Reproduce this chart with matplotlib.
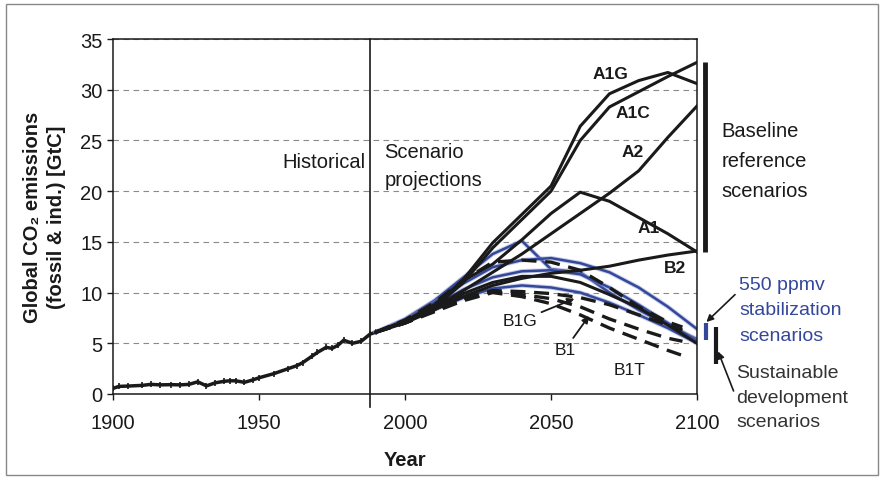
import matplotlib
matplotlib.use("Agg")
import matplotlib.pyplot as plt
from matplotlib.patches import Rectangle

plt.rcParams['font.family'] = ['Liberation Sans', 'DejaVu Sans']

# historical emissions (fossil & industry), GtC
hist_years = [1900, 1902, 1905, 1910, 1913, 1916, 1920, 1923, 1926, 1929, 1932,
              1935, 1938, 1940, 1942, 1945, 1948, 1950, 1955, 1960, 1963, 1965,
              1968, 1970, 1973, 1975, 1977, 1979, 1982, 1985, 1988, 1990]
hist_vals = [0.55, 0.75, 0.78, 0.85, 0.95, 0.9, 0.92, 0.9, 0.95, 1.2, 0.8,
             1.1, 1.25, 1.3, 1.3, 1.15, 1.4, 1.6, 2.0, 2.5, 2.8, 3.1,
             3.7, 4.1, 4.6, 4.5, 4.8, 5.3, 5.0, 5.2, 5.9, 6.1]

# baseline reference scenarios
scn_years = [1990, 2000, 2010, 2020, 2030, 2040, 2050, 2060, 2070, 2080, 2090, 2100]
a1g = [6.1, 7.1, 8.6, 11.3, 14.9, 17.7, 20.5, 26.4, 29.6, 30.9, 31.7, 30.6]
a1c = [6.1, 7.1, 8.5, 11.0, 14.4, 17.2, 20.0, 25.0, 28.3, 29.8, 31.3, 32.7]
a2 = [6.1, 7.2, 8.5, 10.2, 12.0, 13.8, 15.8, 17.8, 19.8, 22.0, 25.3, 28.4]
a1 = [6.1, 7.2, 8.8, 11.2, 12.8, 15.2, 17.8, 19.9, 19.0, 17.4, 15.8, 14.0]
b2 = [6.1, 7.1, 8.3, 9.6, 10.7, 11.4, 11.9, 12.2, 12.6, 13.2, 13.7, 14.1]
b1 = [6.1, 7.0, 8.3, 9.9, 11.0, 11.6, 11.6, 11.0, 9.8, 8.5, 6.8, 5.0]

# 550 ppmv stabilization scenarios
stab_1 = [6.1, 7.4, 9.2, 11.5, 13.8, 15.1, 12.3, 12.0, 10.0, 8.3, 6.8, 5.4]
stab_2 = [6.1, 7.3, 9.0, 10.9, 12.5, 13.2, 13.4, 12.9, 12.0, 10.5, 8.6, 6.4]
stab_3 = [6.1, 7.2, 8.7, 10.3, 11.5, 12.1, 12.2, 11.8, 10.5, 8.8, 7.0, 5.2]
stab_4 = [6.1, 7.1, 8.3, 9.5, 10.4, 10.7, 10.5, 10.0, 9.0, 7.8, 6.5, 5.0]

# sustainable development scenarios (dashed)
sd_years = [1990, 2000, 2010, 2020, 2030, 2040, 2050, 2060, 2070, 2080, 2090, 2095]
sd_top = [6.1, 7.3, 9.0, 11.2, 13.0, 13.2, 13.0, 12.2, 10.5, 8.6, 7.1, 6.6]
sd_b1g = [6.1, 7.0, 8.2, 9.4, 10.2, 10.1, 9.9, 9.5, 8.8, 7.8, 6.8, 6.3]
sd_b1 = [6.1, 7.0, 8.2, 9.3, 10.1, 9.8, 9.4, 8.6, 7.4, 6.4, 5.5, 5.2]
sd_b1t = [6.1, 7.0, 8.1, 9.2, 10.0, 9.6, 8.9, 7.8, 6.5, 5.4, 4.3, 3.8]

x_ticks = [1900, 1950, 2000, 2050, 2100]
y_ticks = [0, 5, 10, 15, 20, 25, 30, 35]

ink = '#1a1a1a'
blue = '#34489a'

fig = plt.figure(figsize=(8.81, 4.81), dpi=100)
ax = fig.add_axes([0.1283, 0.1788, 0.6629, 0.738])

ax.set_xlim(1900, 2100)
ax.set_ylim(0, 35)
ax.set_xticks(x_ticks)
ax.set_yticks(y_ticks)
ax.tick_params(labelsize=14.5, colors=ink, length=4, width=1, direction='out')
ax.tick_params(axis='x', pad=10)
for s in ax.spines.values():
    s.set_color(ink)
    s.set_linewidth(1.1)
ax.grid(axis='y', color='#8a8a8a', linestyle=(0, (5, 4)), linewidth=0.8)
ax.set_axisbelow(True)

ax.set_xlabel('Year', fontsize=14.5, fontweight='bold', color=ink, labelpad=13)
ax.set_ylabel('Global CO\u2082 emissions\n(fossil & ind.) [GtC]', fontsize=14.5,
              fontweight='bold', color=ink, labelpad=10, linespacing=1.35)

# history and separator
ax.plot(hist_years, hist_vals, color=ink, lw=2.5, marker='|', ms=5, mew=1.2)
ax.plot([1988, 1988], [-1.3, 35], color=ink, lw=1.2, clip_on=False)

# stabilization (blue)
for v in (stab_1, stab_2, stab_3, stab_4):
    ax.plot(scn_years, v, color='#8f9ad0', lw=3.2, alpha=0.5)
    ax.plot(scn_years, v, color=blue, lw=1.8)

# sustainable development (dashed)
for v in (sd_top, sd_b1g, sd_b1, sd_b1t):
    ax.plot(sd_years, v, color=ink, lw=2.4, linestyle=(0, (4.5, 2.6)))

# baseline scenarios
for v in (a1g, a1c, a2, a1, b2, b1):
    ax.plot(scn_years, v, color=ink, lw=2.2)

# curve labels
lab = dict(fontsize=12.5, fontweight='bold', color=ink, ha='center', va='center')
ax.text(2070.5, 31.6, 'A1G', **lab)
ax.text(2078, 27.8, 'A1C', **lab)
ax.text(2078, 23.9, 'A2', **lab)
ax.text(2083.5, 16.4, 'A1', **lab)
ax.text(2092.5, 12.5, 'B2', **lab)

arrow = dict(arrowstyle='-|>', color=ink, lw=1.3, shrinkA=1, shrinkB=0,
             mutation_scale=10)
ax.annotate('B1G', xy=(2058, 9.4), xytext=(2039.4, 7.2), fontsize=12.5, color=ink,
            ha='center', va='center', arrowprops=arrow)
ax.annotate('B1', xy=(2063, 7.7), xytext=(2054.8, 4.4), fontsize=12.5, color=ink,
            ha='center', va='center', arrowprops=arrow)
ax.text(2076.8, 2.4, 'B1T', fontsize=12.5, color=ink, ha='center', va='center')

# period labels
ax.text(1986.5, 22.9, 'Historical', fontsize=14.5, color=ink, ha='right', va='center')
ax.text(1993, 22.5, 'Scenario\nprojections', fontsize=14.5, color=ink, ha='left',
        va='center', linespacing=1.6)

# right-hand brackets and labels
ax.plot([2102.7, 2102.7], [14.0, 32.7], color=ink, lw=3.5, clip_on=False,
        solid_capstyle='butt')
ax.text(2108.5, 23.0, 'Baseline\nreference\nscenarios', fontsize=14.5, color=ink,
        ha='left', va='center', linespacing=1.75)

ax.plot([2103.0, 2103.0], [5.3, 7.0], color=blue, lw=3, clip_on=False,
        solid_capstyle='butt')
ax.plot([2106.5, 2106.5], [3.0, 6.6], color=ink, lw=3, clip_on=False,
        solid_capstyle='butt')
ax.annotate('', xy=(2103.2, 7.1), xytext=(2113, 9.8), annotation_clip=False,
            arrowprops=dict(arrowstyle='-|>', color=ink, lw=1.2, mutation_scale=10,
                            shrinkA=0, shrinkB=0))
ax.text(2114.5, 8.3, '550 ppmv\nstabilization\nscenarios', fontsize=14, color=blue,
        ha='left', va='center', linespacing=1.65)
ax.annotate('', xy=(2107.2, 4.2), xytext=(2112.5, 0.3), annotation_clip=False,
            arrowprops=dict(arrowstyle='-|>', color=ink, lw=1.2, mutation_scale=10,
                            shrinkA=0, shrinkB=0))
ax.text(2113.5, -0.3, 'Sustainable\ndevelopment\nscenarios', fontsize=14, color='#333333',
        ha='left', va='center', linespacing=1.6)

# outer frame
fig.patches.append(Rectangle((6 / 881, 1 - 476 / 481), 872 / 881, 471 / 481,
                             transform=fig.transFigure, fill=False,
                             edgecolor='#888888', lw=1.0))

fig.savefig('out.png', dpi=100)
